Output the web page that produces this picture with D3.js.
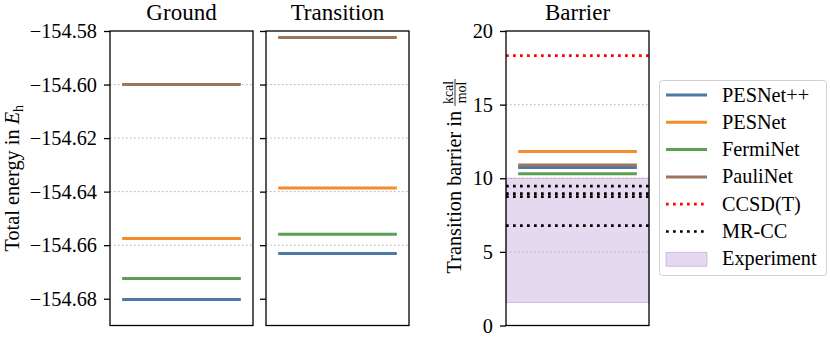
<!DOCTYPE html>
<html>
<head>
<meta charset="utf-8">
<title>Ground, transition and barrier energies</title>
<script src="https://d3js.org/d3.v7.min.js"></script>
<style>
  body { margin: 0; background: #fff; }
  .domain { display: none; }
</style>
</head>
<body>
<svg width="830" height="339" font-family="Liberation Serif"></svg>
<script>
// methods and colours
var methods = ["PESNet++", "PESNet", "FermiNet", "PauliNet"];
var colors = ["#4e79a7", "#f28e2b", "#59a14f", "#9c755f"];

// total energies (E_h)
var ground = [-154.6803, -154.6575, -154.6724, -154.6000];
var transition = [-154.6631, -154.6386, -154.6559, -154.5824];

// barriers (kcal/mol)
var barrier = [10.73, 11.82, 10.30, 10.90];
var ccsdt = [18.33];
var mrcc = [9.47, 8.95, 8.75, 6.78];
var experiment = [1.56, 10.0];

var energyTicks = [-154.68, -154.66, -154.64, -154.62, -154.60, -154.58];
var barrierTicks = [0, 5, 10, 15, 20];

var FONT = "Liberation Serif";
var FS = 20.3;
var svg = d3.select("svg");

var top_ = 31, bottom = 325.5;
var yE = d3.scaleLinear().domain([-154.69, -154.58]).range([bottom, top_]);
var yB = d3.scaleLinear().domain([0, 20]).range([bottom, top_]);

var panels = [
  {title: "Ground", x0: 110, x1: 253, data: ground, y: yE, labels: true},
  {title: "Transition", x0: 266, x1: 409, data: transition, y: yE, labels: false},
  {title: "Barrier", x0: 506, x1: 649, data: barrier, y: yB, labels: true}
];

panels.forEach(function(p, k) {
  var x = d3.scaleLinear().domain([0, 1]).range([p.x0, p.x1]);
  var g = svg.append("g");
  var ticks = k == 2 ? barrierTicks : energyTicks;

  if (k == 2) {
    // experiment span
    g.append("rect")
      .attr("x", x(0)).attr("width", x(1) - x(0))
      .attr("y", p.y(experiment[1]))
      .attr("height", p.y(experiment[0]) - p.y(experiment[1]))
      .attr("fill", "#9467bd").attr("fill-opacity", 0.25)
      .attr("stroke", "#9467bd").attr("stroke-opacity", 0.35);
  }

  // grid
  g.selectAll(".grid").data(ticks.slice(1, -1)).enter().append("line")
    .attr("x1", x(0)).attr("x2", x(1))
    .attr("y1", function(d) { return p.y(d); })
    .attr("y2", function(d) { return p.y(d); })
    .attr("stroke", "#b0b0b0").attr("stroke-width", 1)
    .attr("stroke-dasharray", "1.5,2.5");

  if (k == 2) {
    g.selectAll(".ccsd").data(ccsdt).enter().append("line")
      .attr("x1", x(0)).attr("x2", x(1))
      .attr("y1", function(d) { return p.y(d); })
      .attr("y2", function(d) { return p.y(d); })
      .attr("stroke", "red").attr("stroke-width", 2.7)
      .attr("stroke-dasharray", "2.7,4.3");
    g.selectAll(".mrcc").data(mrcc).enter().append("line")
      .attr("x1", x(0)).attr("x2", x(1))
      .attr("y1", function(d) { return p.y(d); })
      .attr("y2", function(d) { return p.y(d); })
      .attr("stroke", "black").attr("stroke-width", 2.7)
      .attr("stroke-dasharray", "2.7,4.3");
  }

  // method levels
  g.selectAll(".lvl").data(p.data).enter().append("line")
    .attr("x1", x(0.085)).attr("x2", x(0.915))
    .attr("y1", function(d) { return p.y(d); })
    .attr("y2", function(d) { return p.y(d); })
    .attr("stroke", function(d, i) { return colors[i]; })
    .attr("stroke-width", 3);

  // axis
  var ax = d3.axisLeft(p.y).tickValues(ticks).tickSize(6).tickPadding(7)
    .tickFormat(function(d) {
      if (!p.labels) return "";
      return k == 2 ? d : d3.format(".2f")(d).replace("-", "\u2212");
    });
  g.append("g").attr("transform", "translate(" + p.x0 + ",0)").call(ax)
    .attr("font-family", FONT).attr("font-size", FS)
    .call(function(s) {
      s.selectAll("text").attr("fill", "#000");
      s.selectAll(".tick line").attr("stroke-width", 1.3);
    });

  // frame
  g.append("rect").attr("x", p.x0).attr("y", top_)
    .attr("width", p.x1 - p.x0).attr("height", bottom - top_)
    .attr("fill", "none").attr("stroke", "#000").attr("stroke-width", 1.3);

  svg.append("text").attr("x", (p.x0 + p.x1) / 2).attr("y", 20)
    .attr("font-family", FONT)
    .attr("text-anchor", "middle").attr("font-size", 23).text(p.title);
});

// y label left
var yl = svg.append("text")
  .attr("transform", "translate(19," + (top_ + bottom) / 2 + ") rotate(-90)")
  .attr("font-family", FONT)
  .attr("text-anchor", "middle").attr("font-size", FS);
yl.append("tspan").text("Total energy in ");
yl.append("tspan").attr("font-style", "italic").text("E");
yl.append("tspan").attr("font-size", 14).attr("dy", 4).text("h");

// y label barrier (with fraction)
var bl = svg.append("g").attr("font-family", FONT)
  .attr("transform", "translate(461," + ((top_ + bottom) / 2 - 2) + ") rotate(-90)");
var bt = bl.append("text").attr("font-size", FS).text("Transition barrier in");
var w = bt.node().getComputedTextLength();
var fw = 27, total = w + 5 + fw;
bt.attr("x", -total / 2);
var fx = -total / 2 + w + 5 + fw / 2;
bl.append("line").attr("x1", fx - fw / 2).attr("x2", fx + fw / 2)
  .attr("y1", -6).attr("y2", -6).attr("stroke", "#000").attr("stroke-width", 0.8);
bl.append("text").attr("x", fx).attr("y", -8.5).attr("text-anchor", "middle")
  .attr("font-size", 14).text("kcal");
bl.append("text").attr("x", fx).attr("y", 4.5).attr("text-anchor", "middle")
  .attr("font-size", 14).text("mol");

// legend
var lg = svg.append("g").attr("font-family", FONT);
lg.append("rect").attr("x", 659.5).attr("y", 80.5).attr("width", 167).attr("height", 195)
  .attr("rx", 3).attr("fill", "#fff").attr("stroke", "#d0d0d0");
var legendItems = methods.map(function(m, i) { return {name: m, color: colors[i], type: "solid"}; })
  .concat([{name: "CCSD(T)", color: "red", type: "dot"},
           {name: "MR-CC", color: "black", type: "dot"},
           {name: "Experiment", color: "#9467bd", type: "patch"}]);
legendItems.forEach(function(it, i) {
  var y = 95 + i * 27.3;
  if (it.type == "patch") {
    lg.append("rect").attr("x", 666).attr("y", y - 6.5).attr("width", 41).attr("height", 14)
      .attr("fill", it.color).attr("fill-opacity", 0.25)
      .attr("stroke", it.color).attr("stroke-opacity", 0.35);
  } else {
    lg.append("line").attr("x1", 666).attr("x2", 707).attr("y1", y).attr("y2", y)
      .attr("stroke", it.color).attr("stroke-width", it.type == "dot" ? 2.7 : 3)
      .attr("stroke-dasharray", it.type == "dot" ? "2.7,4.3" : null);
  }
  lg.append("text").attr("x", 722).attr("y", y + 6.5).attr("font-size", FS).text(it.name);
});
</script>
</body>
</html>
